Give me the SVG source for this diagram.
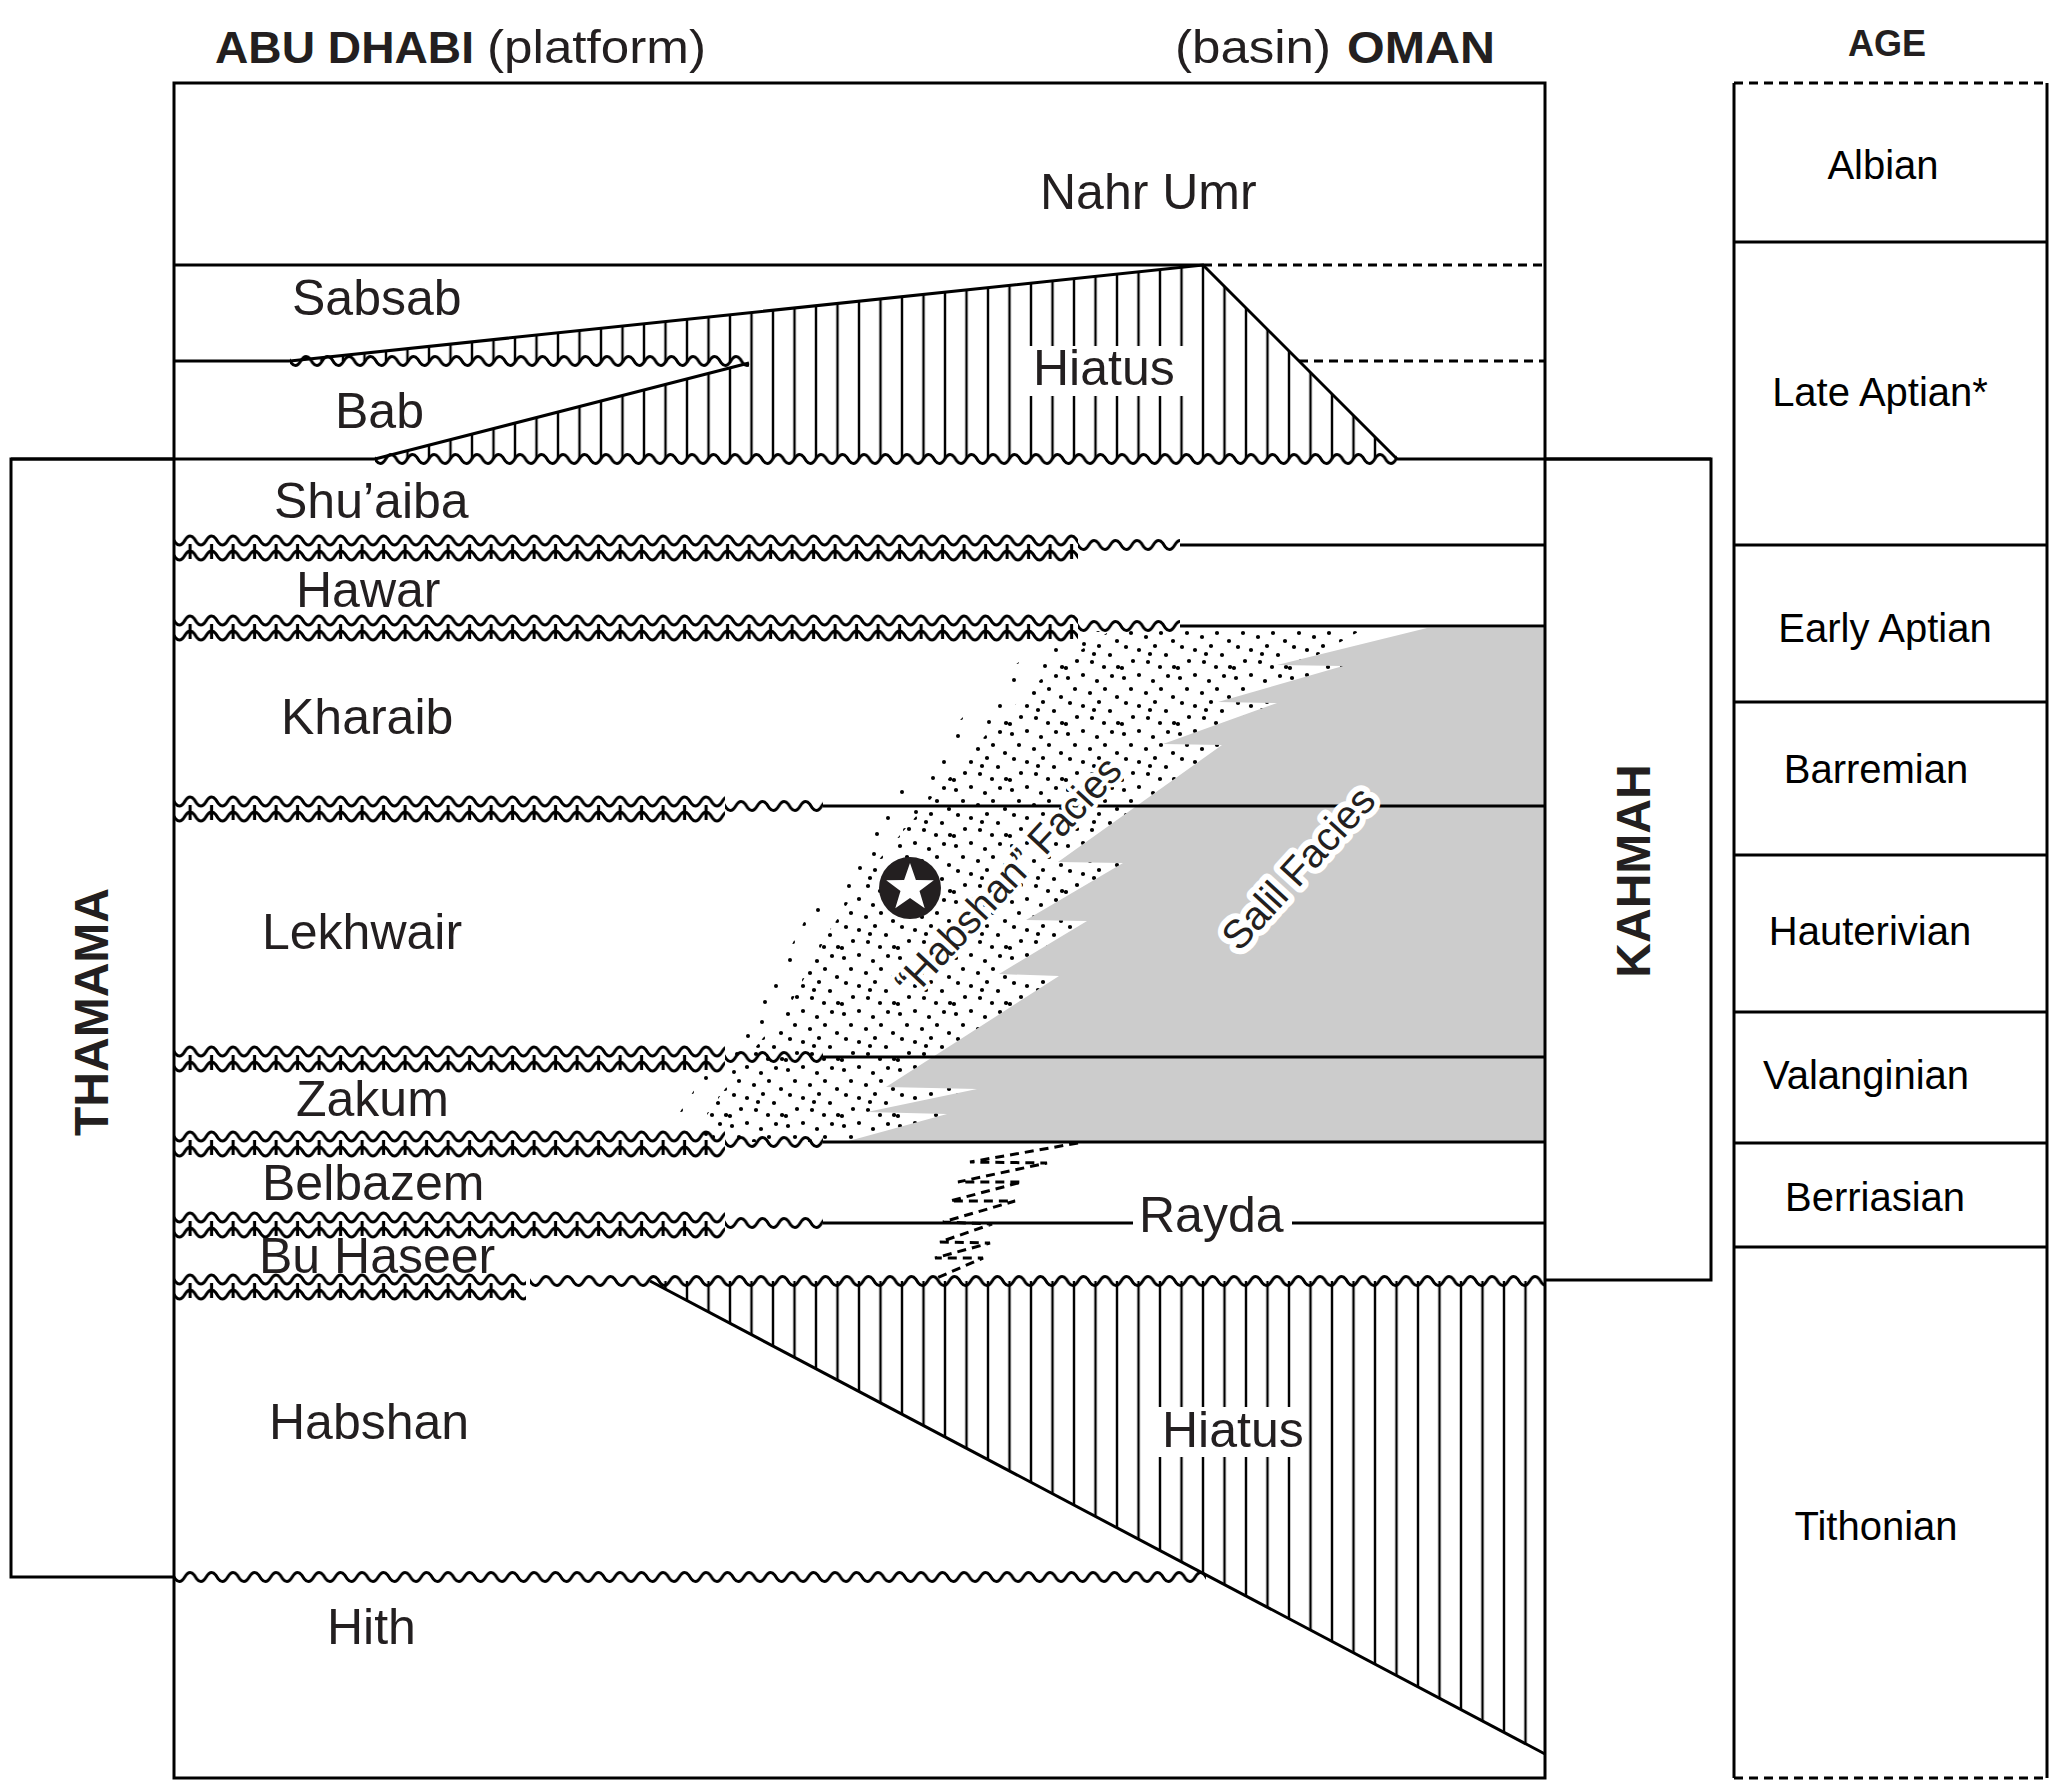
<svg xmlns="http://www.w3.org/2000/svg" width="2067" height="1784" viewBox="0 0 2067 1784">
<style>
.ln{stroke:#000;stroke-width:3;fill:none}
.dash{stroke:#000;stroke-width:3;fill:none;stroke-dasharray:9 6}
.lbl{font-family:"Liberation Sans",Arial,sans-serif;font-size:50px;fill:#231f20}
.age{font-family:"Liberation Sans",Arial,sans-serif;font-size:40px;fill:#000;text-anchor:middle}
.bold{font-family:"Liberation Sans",Arial,sans-serif;font-weight:bold;fill:#231f20}
.reg{font-family:"Liberation Sans",Arial,sans-serif;fill:#231f20}
</style>
<defs>
<pattern id="w1" width="21.5" height="14" patternUnits="userSpaceOnUse">
<path d="M-10.75,7 q5.375,-9 10.75,0 t10.75,0 t10.75,0 t10.75,0" fill="none" stroke="#000" stroke-width="3"/>
</pattern>
<pattern id="w2" width="21.5" height="30" patternUnits="userSpaceOnUse">
<path d="M-10.75,7.5 q5.375,-9 10.75,0 t10.75,0 t10.75,0 t10.75,0 M-10.75,22.5 q5.375,-9 10.75,0 t10.75,0 t10.75,0 t10.75,0 M16.1,11 V26" fill="none" stroke="#000" stroke-width="3.1"/>
</pattern>
<pattern id="hatch" width="21.5" height="10" patternUnits="userSpaceOnUse" patternTransform="translate(9.75,0)">
<path d="M10.75,-1 V11" stroke="#000" stroke-width="2.4"/>
</pattern>
<pattern id="dots" width="56" height="56" patternUnits="userSpaceOnUse">
<g fill="#000">
<circle cx="4" cy="6" r="2.1"/><circle cx="19" cy="3" r="2.1"/><circle cx="33" cy="9" r="2.1"/><circle cx="48" cy="4" r="2.1"/>
<circle cx="11" cy="17" r="2.1"/><circle cx="26" cy="21" r="2.1"/><circle cx="41" cy="17" r="2.1"/><circle cx="53" cy="25" r="2.1"/>
<circle cx="6" cy="31" r="2.1"/><circle cx="19" cy="34" r="2.1"/><circle cx="35" cy="30" r="2.1"/><circle cx="46" cy="39" r="2.1"/>
<circle cx="13" cy="45" r="2.1"/><circle cx="28" cy="46" r="2.1"/><circle cx="40" cy="51" r="2.1"/><circle cx="54" cy="51" r="2.1"/>
<circle cx="2" cy="52" r="2.1"/><circle cx="30" cy="38" r="2.1"/>
</g>
</pattern>
<pattern id="dots2" width="56" height="56" patternUnits="userSpaceOnUse">
<g fill="#000">
<circle cx="6" cy="8" r="2"/><circle cx="34" cy="14" r="2"/><circle cx="20" cy="28" r="2"/><circle cx="48" cy="34" r="2"/>
<circle cx="9" cy="46" r="2"/><circle cx="37" cy="50" r="2"/>
</g>
</pattern>
</defs>
<rect width="2067" height="1784" fill="#fff"/>

<g id="titles">
<text class="bold" x="215" y="63" font-size="44" textLength="259" lengthAdjust="spacingAndGlyphs">ABU DHABI</text>
<text class="reg" x="487" y="63" font-size="46" textLength="219" lengthAdjust="spacingAndGlyphs">(platform)</text>
<text class="reg" x="1175" y="63" font-size="46" textLength="156" lengthAdjust="spacingAndGlyphs">(basin)</text>
<text class="bold" x="1347" y="63" font-size="44" textLength="148" lengthAdjust="spacingAndGlyphs">OMAN</text>
<text class="bold" x="1848" y="56" font-size="36" textLength="78" lengthAdjust="spacingAndGlyphs">AGE</text>
</g>

<g id="facies-stipple">
<path d="M1060,631 L1110,631 L1050,670 L990,730 L930,800 L870,870 L830,930 L790,1005 L745,1060 L705,1118 L715,1142 L690,1142 L680,1112 L720,1050 L765,995 L805,920 L845,860 L900,790 L960,720 L1015,665 Z" fill="url(#dots2)"/>
<path d="M1110,631 L1360,631 L1300,665 L1450,665 L1450,1142 L715,1142 L705,1118 L745,1060 L790,1005 L830,930 L870,870 L930,800 L990,730 L1050,670 Z" fill="url(#dots)"/>
</g>

<g id="salil-facies">
<path d="M1427,628 L1545,628 L1545,1142 L845,1142 L947,1114 L867,1112 L977,1089 L886,1087 L1059,976 L999,974 L1087,921 L1026,920 L1123,863 L1058,862 L1222,745 L1163,744 L1277,703 L1218,702 L1343,666 L1277,665 Z" fill="#cccccc"/>
</g>

<g id="hiatus-upper">
<path d="M290,361 L1203,265 L1397,459 L375,459 L749,363 Z" fill="url(#hatch)"/>
<path class="ln" d="M290,361 L1203,265 L1397,459 M375,459 L749,363"/>
<rect x="1028" y="346" width="156" height="50" fill="#fff"/>
<text class="lbl" x="1033" y="385">Hiatus</text>
</g>

<g id="hiatus-lower">
<path d="M650,1281 L1545,1281 L1545,1754 Z" fill="url(#hatch)"/>
<path class="ln" d="M650,1281 L1545,1754"/>
<rect x="1157" y="1407" width="150" height="50" fill="#fff"/>
<text class="lbl" x="1162" y="1447">Hiatus</text>
</g>

<g id="connectors">
<path class="ln" d="M174,265 H1203"/>
<path class="dash" d="M1203,265 H1545"/>
<path class="ln" d="M174,361 H290"/>
<path class="dash" d="M1299,361 H1545"/>
<path class="ln" d="M11,459 H375 M1397,459 H1711"/>
<g transform="translate(290,354)"><rect width="459" height="14" fill="url(#w1)"/></g>
<g transform="translate(375,452)"><rect width="1022" height="14" fill="url(#w1)"/></g>

<g transform="translate(174,533)"><rect width="904" height="30" fill="url(#w2)"/></g>
<g transform="translate(1078,538)"><rect width="102" height="14" fill="url(#w1)"/></g>
<path class="ln" d="M1180,545 H1545"/>

<g transform="translate(174,613)"><rect width="904" height="30" fill="url(#w2)"/></g>
<g transform="translate(1078,619)"><rect width="102" height="14" fill="url(#w1)"/></g>
<path class="ln" d="M1180,626 H1545"/>

<g transform="translate(174,794)"><rect width="551" height="30" fill="url(#w2)"/></g>
<g transform="translate(725,799)"><rect width="98" height="14" fill="url(#w1)"/></g>
<path class="ln" d="M823,806 H1545"/>

<g transform="translate(174,1044)"><rect width="551" height="30" fill="url(#w2)"/></g>
<g transform="translate(725,1050)"><rect width="98" height="14" fill="url(#w1)"/></g>
<path class="ln" d="M823,1057 H1545"/>

<g transform="translate(174,1129)"><rect width="551" height="30" fill="url(#w2)"/></g>
<g transform="translate(725,1135)"><rect width="98" height="14" fill="url(#w1)"/></g>
<path class="ln" d="M823,1142 H1545"/>

<g transform="translate(174,1210)"><rect width="551" height="30" fill="url(#w2)"/></g>
<g transform="translate(725,1216)"><rect width="98" height="14" fill="url(#w1)"/></g>
<path class="ln" d="M823,1223 H1133 M1292,1223 H1545"/>

<g transform="translate(174,1272)"><rect width="352" height="30" fill="url(#w2)"/></g>
<g transform="translate(530,1274)"><rect width="1015" height="14" fill="url(#w1)"/></g>

<g transform="translate(174,1570)"><rect width="1032" height="14" fill="url(#w1)"/></g>

<path class="dash" d="M1078,1143 L970,1162 L1047,1163 L958,1182 L1022,1182 L950,1201 L1015,1201 L943,1222 L992,1224 L940,1242 L990,1243 L935,1258 L983,1258 L937,1278"/>
</g>

<g id="frames">
<rect class="ln" x="174" y="83" width="1371" height="1695"/>
<path class="ln" d="M174,459 H11 V1577 H174"/>
<path class="ln" d="M1545,459 H1711 V1280 H1545"/>
</g>

<g id="age-column">
<path class="ln" d="M1734,83 V1778 M2047,83 V1778"/>
<path class="dash" d="M1734,83 H2047 M1734,1778 H2047"/>
<path class="ln" d="M1734,242 H2047 M1734,545 H2047 M1734,702 H2047 M1734,855 H2047 M1734,1012 H2047 M1734,1143 H2047 M1734,1247 H2047"/>
<text class="age" x="1883" y="179">Albian</text>
<text class="age" x="1880" y="406">Late Aptian*</text>
<text class="age" x="1885" y="642">Early Aptian</text>
<text class="age" x="1876" y="783">Barremian</text>
<text class="age" x="1870" y="945">Hauterivian</text>
<text class="age" x="1866" y="1089">Valanginian</text>
<text class="age" x="1875" y="1211">Berriasian</text>
<text class="age" x="1876" y="1540">Tithonian</text>
</g>

<g id="group-labels">
<text class="bold" font-size="48" text-anchor="middle" transform="translate(108,1012) rotate(-90)">THAMAMA</text>
<text class="bold" font-size="48" text-anchor="middle" transform="translate(1650,871) rotate(-90)">KAHMAH</text>
</g>

<g id="formation-labels">
<text class="lbl" x="1040" y="209">Nahr Umr</text>
<text class="lbl" x="292" y="315">Sabsab</text>
<text class="lbl" x="335" y="428" font-size="43">Bab</text>
<text class="lbl" x="274" y="518" font-size="47">Shu’aiba</text>
<text class="lbl" x="296" y="607">Hawar</text>
<text class="lbl" x="281" y="734">Kharaib</text>
<text class="lbl" x="262" y="949">Lekhwair</text>
<text class="lbl" x="296" y="1116">Zakum</text>
<text class="lbl" x="262" y="1200">Belbazem</text>
<text class="lbl" x="1139" y="1232">Rayda</text>
<text class="lbl" x="259" y="1273">Bu Haseer</text>
<text class="lbl" x="269" y="1439">Habshan</text>
<text class="lbl" x="327" y="1644">Hith</text>
</g>

<g id="facies-labels">
<text class="reg" font-size="40" text-anchor="middle" dy="14" textLength="310" lengthAdjust="spacingAndGlyphs" transform="translate(1008,876) rotate(-47)" stroke="#fff" stroke-width="8" stroke-linejoin="round" paint-order="stroke">“Habshan” Facies</text>
<text class="reg" font-size="40" text-anchor="middle" dy="14" transform="translate(1298,868) rotate(-47.5)" stroke="#fff" stroke-width="12" stroke-linejoin="round" paint-order="stroke">Salil Facies</text>
</g>

<g id="star-symbol">
<circle cx="910" cy="888" r="31" fill="#231f20"/>
<polygon points="910,863 915.9,879.9 933.8,880.3 919.5,891.1 924.7,908.2 910,898 895.3,908.2 900.5,891.1 886.2,880.3 904.1,879.9" fill="#fff"/>
</g>
</svg>
